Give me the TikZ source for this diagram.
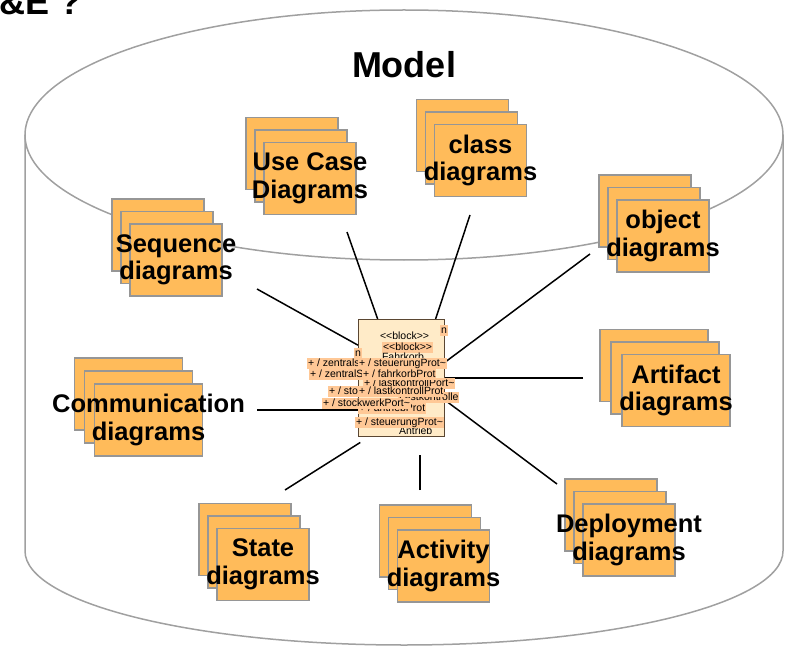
\documentclass[tikz,border=0pt]{standalone}
\usepackage{fontspec}
\setmainfont{Liberation Sans}

\begin{document}
\begin{tikzpicture}[
  x=1pt, y=-1pt,
  cyl/.style={draw={rgb,255:red,160;green,160;blue,160}, line width=1.5pt},
  sheet/.style={draw={rgb,255:red,150;green,150;blue,150}, fill={rgb,255:red,255;green,187;blue,90},
    line width=1.4pt, minimum width=92pt, minimum height=72pt, inner sep=0pt}, % one diagram page
  widesheet/.style={sheet, minimum width=108pt},
  sheettext/.style={font=\bfseries\fontsize{25.5}{27.5}\selectfont, align=center, inner sep=0pt},
  link/.style={draw=black, line width=1.5pt},
  blockbox/.style={draw={rgb,255:red,90;green,70;blue,50}, fill={rgb,255:red,255;green,235;blue,200},
    line width=1.2pt, minimum width=86pt, minimum height=117pt, inner sep=0pt},
  portlbl/.style={fill={rgb,255:red,255;green,200;blue,150}, font=\fontsize{10.5}{11}\selectfont,
    inner xsep=0.8pt, inner ysep=0.5pt, text height=8pt, text depth=2pt, anchor=west},
  barelbl/.style={portlbl, fill=none}
]

  \useasboundingbox (0,0) rectangle (787,647);

  \node[font=\bfseries\fontsize{36}{40}\selectfont, inner sep=0pt, anchor=base west] (head) at (-0.6,15) {\&E ?};

  % the model container
  \draw[cyl] (404,135) ellipse [x radius=379pt, y radius=125pt];
  \draw[cyl] (25,135) -- (25,551) arc [start angle=180, end angle=360, x radius=379pt, y radius=94pt] -- (783,135);
  \node[font=\bfseries\fontsize{36}{40}\selectfont, inner sep=0pt] (model) at (404,65) {Model};

  % stacks of diagrams
  \node[sheet] (uc-3) at (292,153.5) {};
  \node[sheet] (uc-2) at (301,166) {};
  \node[sheet] (uc-1) at (310,178.5) {};
  \node[sheettext] (uc) at (uc-1) {Use Case\\Diagrams};

  \node[sheet] (cls-3) at (462.5,135.5) {};
  \node[sheet] (cls-2) at (471.5,148) {};
  \node[sheet] (cls-1) at (480.5,160.5) {};
  \node[sheettext] (cls) at (cls-1) {class\\diagrams};

  \node[sheet] (obj-3) at (645,211) {};
  \node[sheet] (obj-2) at (654,223.5) {};
  \node[sheet] (obj-1) at (663,236) {};
  \node[sheettext] (obj) at (obj-1) {object\\diagrams};

  \node[widesheet] (art-3) at (654,365.5) {};
  \node[widesheet] (art-2) at (665,378) {};
  \node[widesheet] (art-1) at (676,390.5) {};
  \node[sheettext] (art) at (art-1) {Artifact\\diagrams};

  \node[sheet] (dep-3) at (611,515) {};
  \node[sheet] (dep-2) at (620,527.5) {};
  \node[sheet] (dep-1) at (629,540) {};
  \node[sheettext] (dep) at (dep-1) {Deployment\\diagrams};

  \node[sheet] (act-3) at (425.5,541) {};
  \node[sheet] (act-2) at (434.5,553.5) {};
  \node[sheet] (act-1) at (443.5,566) {};
  \node[sheettext] (act) at (act-1) {Activity\\diagrams};

  \node[sheet] (st-3) at (245,539.5) {};
  \node[sheet] (st-2) at (254,552) {};
  \node[sheet] (st-1) at (263,564.5) {};
  \node[sheettext] (st) at (st-1) {State\\diagrams};

  \node[widesheet] (com-3) at (128.5,394) {};
  \node[widesheet] (com-2) at (138.5,407) {};
  \node[widesheet] (com-1) at (148.5,420) {};
  \node[sheettext] (com) at (com-1) {Communication\\diagrams};

  \node[sheet] (seq-3) at (158,235) {};
  \node[sheet] (seq-2) at (167,247.5) {};
  \node[sheet] (seq-1) at (176,260) {};
  \node[sheettext] (seq) at (seq-1) {Sequence\\diagrams};

  % the block in the middle
  \node[blockbox] (blk) at (401.5,378) {};

  \coordinate (seq-e) at (257,289);
  \coordinate (uc-e) at (347,232);
  \coordinate (cls-e) at (470,215);
  \coordinate (obj-e) at (590,254);
  \coordinate (art-e) at (583,378);
  \coordinate (dep-e) at (557,484);
  \coordinate (act-e) at (420,490);
  \coordinate (st-e) at (285,490);
  \coordinate (com-e) at (257,410);

  \draw[link] (seq-e) -- (blk.143);
  \draw[link] (uc-e) -- (blk.112);
  \draw[link] (cls-e) -- (blk.60);
  \draw[link] (obj-e) -- (blk.20);
  \draw[link] (art-e) -- (art-e -| blk.east);
  \draw[link] (dep-e) -- (blk.333);
  \draw[link, shorten >=18pt] (act-e) -- (act-e |- blk.south);
  \draw[link, shorten >=10pt] (st-e) -- (blk.241);
  \draw[link] (com-e) -- (com-e -| blk.west);

  % ports, piled on top of each other
  \node[barelbl] (stereo-a) at (379,336) {<{}<block>{}>};
  \node[portlbl] (n-a) at (440,330) {n};
  \node[portlbl] (stereo-b) at (382,347) {<{}<block>{}>};
  \node[barelbl] (fahr) at (381,357) {Fahrkorb};
  \node[portlbl] (n-b) at (354,353) {n};
  \node[barelbl] (antr) at (398,431) {Antrieb};
  \node[portlbl] (lk-port) at (363,383) {+ / lastkontrollPort\textasciitilde};
  \node[portlbl] (lk) at (398,397) {Lastkontrolle};
  \node[portlbl] (an-prot) at (358,408) {+ / antriebProt};
  \node[portlbl] (zs-a) at (307,363.5) {+ / zentrals};
  \node[portlbl] (st-prot-a) at (358,363.5) {+ / steuerungProt\textasciitilde};
  \node[portlbl] (zs-b) at (309,374) {+ / zentralS};
  \node[portlbl] (fk-prot) at (362,374) {+ / fahrkorbProt};
  \node[portlbl] (sto) at (328,391) {+ / sto};
  \node[portlbl] (lk-prot) at (358,391) {+ / lastkontrollProt};
  \node[portlbl] (sw-port) at (322,403) {+ / stockwerkPort\textasciitilde};
  \node[portlbl] (st-prot-b) at (355,422) {+ / steuerungProt\textasciitilde};

\end{tikzpicture}
\end{document}
